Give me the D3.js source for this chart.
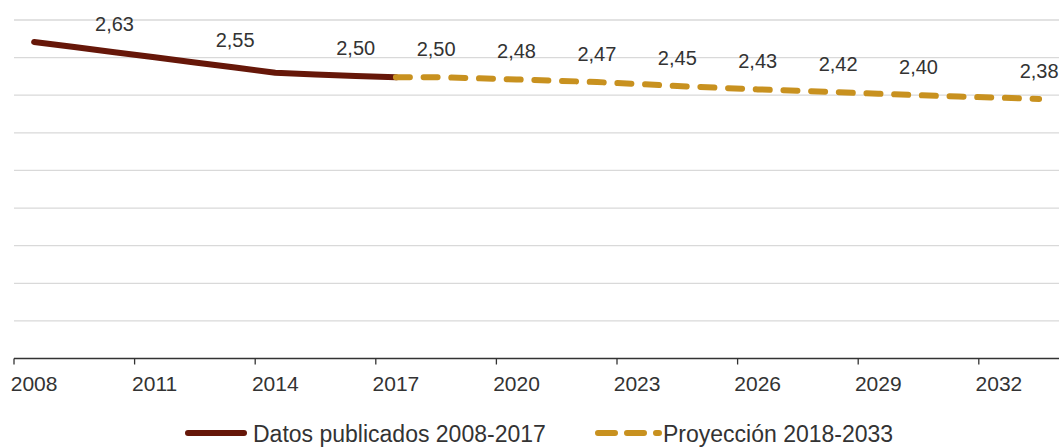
<!DOCTYPE html>
<html>
<head>
<meta charset="utf-8">
<script src="https://cdn.jsdelivr.net/npm/d3@7"></script>
<style>
  body { margin: 0; background: #fff; }
  text { font-family: "Liberation Sans", Arial, sans-serif; fill: #333; }
</style>
</head>
<body>
<div id="chart"></div>
<script>
// years on the axis, one category each
var years = d3.range(2008, 2034);

// published data 2008-2017
var datos = [2.683, 2.656, 2.629, 2.602, 2.574, 2.547, 2.520, 2.510, 2.502, 2.495];

// projection 2018-2033
var proyeccion = [2.496, 2.490, 2.484, 2.477, 2.470, 2.460, 2.449, 2.440, 2.431,
                  2.424, 2.416, 2.408, 2.400, 2.393, 2.387, 2.380];

// years that carry a value label
var labelYears = [2010, 2013, 2016, 2018, 2020, 2022, 2024, 2026, 2028, 2030, 2033];

// years that get a tick label
var tickYears = [2008, 2011, 2014, 2017, 2020, 2023, 2026, 2029, 2032];

var yTicks = [1.2, 1.4, 1.6, 1.8, 2.0, 2.2, 2.4, 2.6, 2.8];

var W = 1059, H = 448;
var svg = d3.select("#chart").append("svg")
    .attr("width", W)
    .attr("height", H);

var x = d3.scaleBand().domain(years).range([14, 14 + 26 * 40.2]);
var y = d3.scaleLinear().domain([1.0, 2.8]).range([358.5, 20]);
var cx = function (yr) { return x(yr) + x.bandwidth() / 2; };

// data as points
var hist = datos.map(function (v, i) { return { year: 2008 + i, value: v }; });
var proj = proyeccion.map(function (v, i) { return { year: 2018 + i, value: v }; });
var projLine = [hist[hist.length - 1]].concat(proj);
var all = hist.concat(proj);

// gridlines
svg.selectAll("line.grid")
    .data(yTicks)
    .enter().append("line")
    .attr("class", "grid")
    .attr("x1", 14).attr("x2", W)
    .attr("y1", function (d) { return y(d); })
    .attr("y2", function (d) { return y(d); })
    .attr("stroke", "#d9d9d9")
    .attr("stroke-width", 1.3);

// x axis
svg.append("line")
    .attr("x1", 14).attr("x2", W)
    .attr("y1", y(1.0)).attr("y2", y(1.0))
    .attr("stroke", "#333").attr("stroke-width", 1.3);

svg.selectAll("line.tick")
    .data(tickYears)
    .enter().append("line")
    .attr("class", "tick")
    .attr("x1", function (d) { return x(d); })
    .attr("x2", function (d) { return x(d); })
    .attr("y1", y(1.0)).attr("y2", y(1.0) + 6)
    .attr("stroke", "#333").attr("stroke-width", 1.3);

svg.selectAll("text.tick")
    .data(tickYears)
    .enter().append("text")
    .attr("class", "tick")
    .attr("x", function (d) { return cx(d); })
    .attr("y", 391)
    .attr("text-anchor", "middle")
    .attr("font-size", "21px")
    .text(function (d) { return d; });

// lines
var line = d3.line()
    .x(function (d) { return cx(d.year); })
    .y(function (d) { return y(d.value); });

svg.append("path")
    .datum(hist)
    .attr("d", line)
    .attr("fill", "none")
    .attr("stroke", "#661709")
    .attr("stroke-width", 6)
    .attr("stroke-linecap", "round")
    .attr("stroke-linejoin", "round");

svg.append("path")
    .datum(projLine)
    .attr("d", line)
    .attr("fill", "none")
    .attr("stroke", "#c8911f")
    .attr("stroke-width", 6)
    .attr("stroke-linecap", "round")
    .attr("stroke-dasharray", "14,13.7");

// value labels
var fmt = d3.format(".2f");
svg.selectAll("text.val")
    .data(all.filter(function (d) { return labelYears.indexOf(d.year) >= 0; }))
    .enter().append("text")
    .attr("class", "val")
    .attr("x", function (d) { return cx(d.year); })
    .attr("y", function (d) { return y(d.value) - 21; })
    .attr("text-anchor", "middle")
    .attr("font-size", "20px")
    .text(function (d) { return fmt(d.value).replace(".", ","); });

// legend
var lg = svg.append("g");
lg.append("line")
    .attr("x1", 188).attr("x2", 244)
    .attr("y1", 433).attr("y2", 433)
    .attr("stroke", "#661709").attr("stroke-width", 6)
    .attr("stroke-linecap", "round");
lg.append("text")
    .attr("x", 253).attr("y", 442)
    .attr("font-size", "23px")
    .text("Datos publicados 2008-2017");

lg.append("line")
    .attr("x1", 598).attr("x2", 659)
    .attr("y1", 433).attr("y2", 433)
    .attr("stroke", "#c8911f").attr("stroke-width", 6)
    .attr("stroke-linecap", "round")
    .attr("stroke-dasharray", "17,12");
lg.append("text")
    .attr("x", 663).attr("y", 442)
    .attr("font-size", "23px")
    .text("Proyección 2018-2033");
</script>
</body>
</html>
